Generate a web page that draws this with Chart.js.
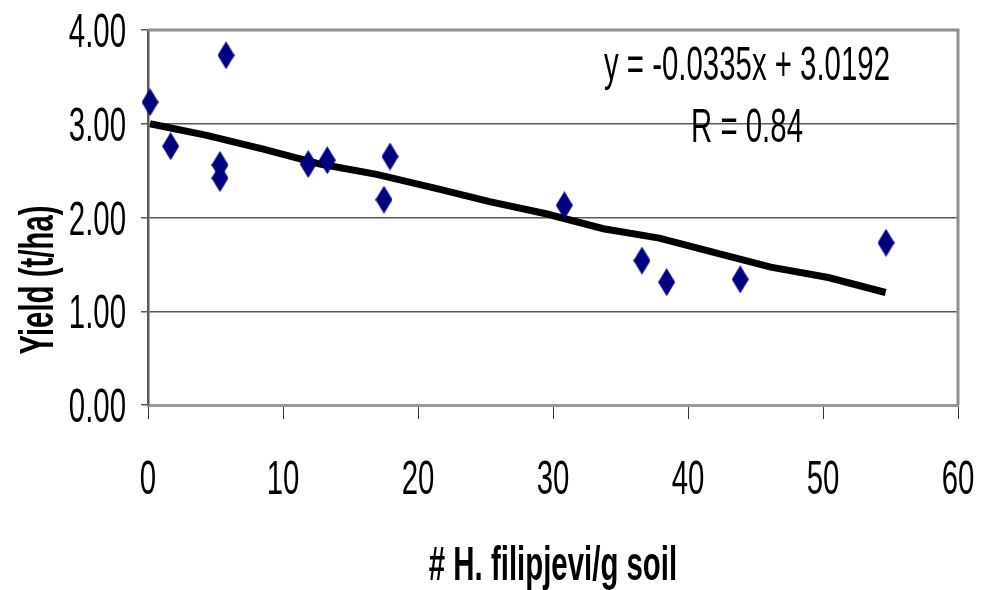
<!DOCTYPE html>
<html>
<head>
<meta charset="utf-8">
<script src="https://cdn.jsdelivr.net/npm/chart.js@4/dist/chart.umd.min.js"></script>
<style>
  html, body { margin: 0; padding: 0; background: #fff; overflow: hidden; }
  #wrap { width: 982px; height: 590px; }
</style>
</head>
<body>
<div id="wrap"><canvas id="c" width="982" height="590"></canvas></div>
<script>
// Yield vs. nematode density, with the fitted trend line.

const nematodes = [0.15, 1.68, 5.78, 5.33, 5.33, 11.87, 13.28, 17.93, 17.48, 30.84, 36.59, 38.42, 43.87, 54.67];
const yields    = [3.23, 2.76, 3.73, 2.56, 2.42, 2.57, 2.61, 2.65, 2.19, 2.13, 1.54, 1.31, 1.34, 1.73];

// trend line as drawn (slightly kinked polyline in the original)
const trendX = [0.15, 4.35, 8.54, 12.74, 16.94, 21.63, 25.3, 29.48, 33.73, 37.87, 42.13, 46.13, 50.39, 54.64];
const trendY = [3.00, 2.876, 2.73, 2.57, 2.46, 2.30, 2.17, 2.04, 1.88, 1.78, 1.62, 1.47, 1.36, 1.20];

const xTickLabels = ["0", "10", "20", "30", "40", "50", "60"];
const yTickLabels = ["0.00", "1.00", "2.00", "3.00", "4.00"];

const xTitle = "# H. filipjevi/g soil";
const yTitle = "Yield (t/ha)";
const eqLines = ["y = -0.0335x + 3.0192", "R = 0.84"];

// The original lettering is very condensed; squeeze Liberation Sans to match.
const SQUEEZE = 0.6;
const FONT = "'Liberation Sans', Arial, sans-serif";

function squeezed(ctx, text, x, y, { align = "center", bold = false, size = 49, rotate = 0 } = {}) {
  ctx.save();
  ctx.translate(x, y);
  if (rotate) ctx.rotate(rotate);
  ctx.scale(SQUEEZE, 1);
  ctx.font = `${bold ? "bold " : ""}${size}px ${FONT}`;
  ctx.textAlign = align;
  ctx.textBaseline = "alphabetic";
  ctx.fillStyle = "#000";
  ctx.fillText(text, 0, 0);
  ctx.restore();
}

// tall navy diamond marker
function diamond(w, h, color) {
  const cv = document.createElement("canvas");
  cv.width = w; cv.height = h;
  const g = cv.getContext("2d");
  g.fillStyle = color;
  g.beginPath();
  g.moveTo(w / 2, 0);
  g.lineTo(w, h / 2);
  g.lineTo(w / 2, h);
  g.lineTo(0, h / 2);
  g.closePath();
  g.fill();
  return cv;
}

const textPlugin = {
  id: "condensedText",
  afterDraw(chart) {
    const { ctx, scales: { x, y }, chartArea: a } = chart;
    y.ticks.forEach((t, i) => {
      squeezed(ctx, yTickLabels[i], 126, y.getPixelForValue(t.value) + 17, { align: "right" });
    });
    x.ticks.forEach((t, i) => {
      squeezed(ctx, xTickLabels[i], x.getPixelForValue(t.value), 494);
    });
    squeezed(ctx, xTitle, (a.left + a.right) / 2, 580, { bold: true });
    squeezed(ctx, yTitle, 53, 280, { bold: true, rotate: -Math.PI / 2 });
    squeezed(ctx, eqLines[0], 747, 80);
    squeezed(ctx, eqLines[1], 747, 142);
  },
  // grey top/right frame goes under the marks
  beforeDatasetsDraw(chart) {
    const { ctx, chartArea: a } = chart;
    ctx.save();
    ctx.strokeStyle = "#8f8f8f";
    ctx.lineWidth = 3;
    ctx.beginPath();
    ctx.moveTo(a.left, a.top);
    ctx.lineTo(a.right, a.top);
    ctx.lineTo(a.right, a.bottom);
    ctx.stroke();
    ctx.restore();
  },
};

new Chart(document.getElementById("c"), {
  type: "scatter",
  data: {
    datasets: [
      {
        label: "Trend",
        type: "line",
        data: trendX.map((v, i) => ({ x: v, y: trendY[i] })),
        borderColor: "#000",
        borderWidth: 7,
        pointRadius: 0,
        tension: 0,
        fill: false,
        clip: false,
        order: 2,
      },
      {
        label: "Yield",
        data: nematodes.map((v, i) => ({ x: v, y: yields[i] })),
        pointStyle: diamond(17, 28, "#000080"),
        pointRadius: 8,
        clip: false,
        order: 1,
      },
    ],
  },
  options: {
    responsive: false,
    animation: false,
    events: [],
    layout: { padding: { top: 30, right: 24, left: 0, bottom: 0 } },
    scales: {
      x: {
        type: "linear", min: 0, max: 60,
        ticks: { stepSize: 10, display: false },
        grid: { drawOnChartArea: false, drawTicks: true, tickLength: 14, color: "#333", lineWidth: 1 },
        border: { color: "#9a9a9a", width: 3 },
        afterFit: (s) => { s.height = 185; },
      },
      y: {
        type: "linear", min: 0, max: 4,
        ticks: { stepSize: 1, display: false },
        grid: { color: "#5a5a5a", lineWidth: 1.5, tickLength: 7 },
        border: { color: "#5a5a5a", width: 2.5 },
        afterFit: (s) => { s.width = 148; },
      },
    },
    plugins: {
      legend: { display: false },
      tooltip: { enabled: false },
    },
  },
  plugins: [textPlugin],
});
</script>
</body>
</html>
